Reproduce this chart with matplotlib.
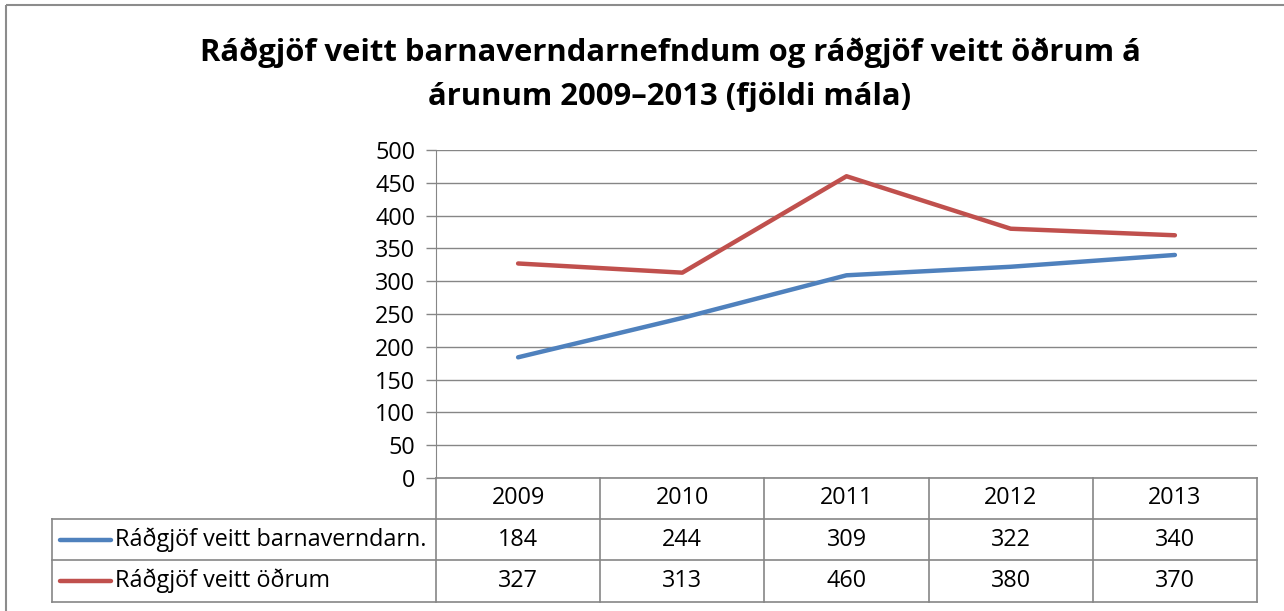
import matplotlib.pyplot as plt
from matplotlib.patches import Rectangle

years = ["2009", "2010", "2011", "2012", "2013"]
barnavernd = [184, 244, 309, 322, 340]
odrum = [327, 313, 460, 380, 370]
series_names = ["Ráðgjöf veitt barnaverndarn.", "Ráðgjöf veitt öðrum"]
series_colors = ["#4F81BD", "#C0504D"]
title = "Ráðgjöf veitt barnaverndarnefndum og ráðgjöf veitt öðrum á\nárunum 2009–2013 (fjöldi mála)"
yticks = list(range(0, 501, 50))

plt.rcParams['font.family'] = ['Open Sans', 'DejaVu Sans']
fs = 16.8

W, H = 1284, 611
fig = plt.figure(figsize=(W / 100, H / 100), dpi=100)

# pixel layout of the plot area and data table
px0, px1 = 436, 1257
py0, py1 = 150, 478
grid_col = "#868686"

# overlay axes in pixel coordinates for the frame and the table
lay = fig.add_axes([0, 0, 1, 1])
lay.set_xlim(0, W)
lay.set_ylim(H, 0)
lay.axis("off")
lay.add_patch(Rectangle((6, 5), W + 20, H + 20, fill=False, ec="#8c8c8c", lw=1.5))

ax = fig.add_axes([px0 / W, 1 - py1 / H, (px1 - px0) / W, (py1 - py0) / H])
x = [i + 0.5 for i in range(len(years))]
ax.plot(x, barnavernd, color=series_colors[0], lw=3.2, solid_capstyle="round")
ax.plot(x, odrum, color=series_colors[1], lw=3.2, solid_capstyle="round")
ax.set_xlim(0, len(years))
ax.set_ylim(0, 500)
ax.set_yticks(yticks)
ax.set_xticks([])
ax.tick_params(axis="y", length=7, width=1, color=grid_col, labelsize=fs, pad=8)
ax.grid(axis="y", color=grid_col, lw=1)
ax.set_axisbelow(True)
for s in ["top", "right", "bottom"]:
    ax.spines[s].set_visible(False)
ax.spines["left"].set_color(grid_col)
ax.patch.set_alpha(0)

# data table
colw = (px1 - px0) / len(years)
rows = [478, 519, 560, 602]
tx0 = 52
lk = dict(color=grid_col, lw=1.2)
lay.plot([px0, px1], [rows[0], rows[0]], **lk)
for r in rows[1:]:
    lay.plot([tx0, px1], [r, r], **lk)
lay.plot([tx0, tx0], [rows[1], rows[3]], **lk)
for i in range(len(years) + 1):
    xx = px0 + i * colw
    lay.plot([xx, xx], [rows[0], rows[3]], **lk)

for i, yr in enumerate(years):
    cx = px0 + (i + 0.5) * colw
    lay.text(cx, (rows[0] + rows[1]) / 2, yr, ha="center", va="center", fontsize=fs)
    lay.text(cx, (rows[1] + rows[2]) / 2, str(barnavernd[i]), ha="center", va="center", fontsize=fs)
    lay.text(cx, (rows[2] + rows[3]) / 2, str(odrum[i]), ha="center", va="center", fontsize=fs)

for j, name in enumerate(series_names):
    cy = (rows[j + 1] + rows[j + 2]) / 2
    lay.plot([60, 111], [cy, cy], color=series_colors[j], lw=3.2, solid_capstyle="round")
    lay.text(115, cy, name, ha="left", va="center", fontsize=fs)

lay.text(670, 75, title, ha="center", va="center", fontsize=22.3, fontweight="bold",
         linespacing=1.6)

fig.savefig("out.png", dpi=100)
